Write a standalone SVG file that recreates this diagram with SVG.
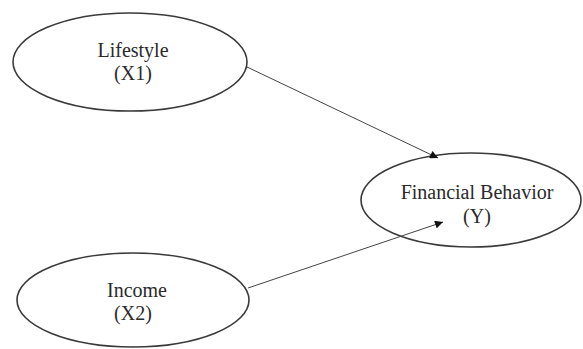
<svg xmlns="http://www.w3.org/2000/svg" width="583" height="349" viewBox="0 0 583 349">
<style>
.node ellipse{fill:#fff;stroke:#3a3a3a;stroke-width:1.6}
.node text{font-family:"Liberation Serif","Times New Roman",serif;font-size:20px;fill:#2a2a2a;text-anchor:middle}
.conn line{stroke:#444;stroke-width:1}
</style>
<defs>
<marker id="ah" viewBox="0 0 10 10" refX="10" refY="5" markerWidth="10" markerHeight="8" markerUnits="userSpaceOnUse" orient="auto">
<path d="M0,0 L10,5 L0,10 z" fill="#111"/>
</marker>
</defs>
<rect width="583" height="349" fill="#fff"/>
<g id="lifestyle" class="node">
<ellipse cx="130" cy="62" rx="117" ry="49"/>
<text x="133" y="57">Lifestyle</text>
<text x="133" y="80">(X1)</text>
</g>
<g id="behavior" class="node">
<ellipse cx="471" cy="200" rx="110" ry="47"/>
<text x="477" y="199">Financial Behavior</text>
<text x="477" y="223">(Y)</text>
</g>
<g id="income" class="node">
<ellipse cx="133" cy="300" rx="116" ry="47"/>
<text x="137" y="297">Income</text>
<text x="133" y="320">(X2)</text>
</g>
<g id="connectors" class="conn">
<line x1="247" y1="67" x2="438" y2="158" marker-end="url(#ah)"/>
<line x1="248" y1="288" x2="443" y2="222" marker-end="url(#ah)"/>
</g>
</svg>
